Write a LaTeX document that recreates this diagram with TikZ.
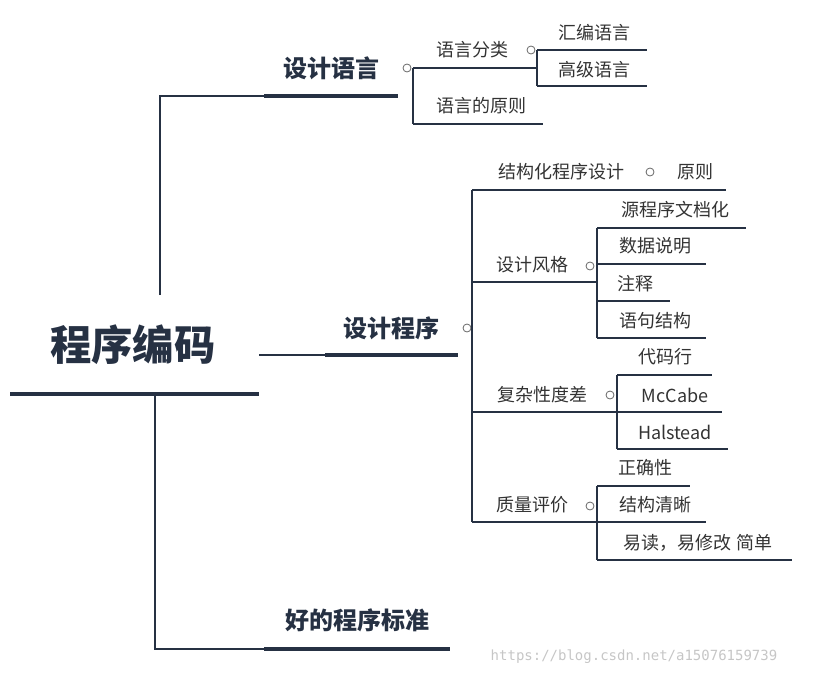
\documentclass[tikz,border=0pt]{standalone}
\usepackage{fontspec}
\setmainfont{Noto Sans CJK SC}
\newfontfamily\wm{DejaVu Sans Mono}
\begin{document}
\begin{tikzpicture}[x=0.75pt,y=-0.75pt,
  ln/.style={draw=navy,line width=0.8pt},
  thick1/.style={draw=navy,line width=3pt},
  thick0/.style={draw=navy,line width=3.5pt},
  dot/.style={circle,draw=gray!80!black,line width=0.6pt,inner sep=0pt,minimum size=6pt},
  leaf/.style={text=txt,font=\fontsize{13.5}{14}\selectfont,inner sep=0pt},
  lvl/.style={text=navy,font=\fontsize{18}{20}\selectfont\bfseries,inner sep=0pt}]
\definecolor{navy}{HTML}{263143}
\definecolor{txt}{HTML}{333333}
\useasboundingbox (0,0) rectangle (814,678);
% root
\node[text=navy,font=\fontsize{31}{34}\selectfont\bfseries,inner sep=0pt] (root) at (133,345) {程序编码};
\draw[thick0] (10,394) -- (259,394);
% level 1
\node[lvl] (l1) at (331,68) {设计语言};
\node[lvl] (l2) at (391,328) {设计程序};
\node[lvl] (l3) at (357,620) {好的程序标准};
\draw[ln] (160,295) -- (160,96) -- (264,96);
\draw[thick1] (264,96) -- (398,96);
\draw[ln] (259,355) -- (325,355);
\draw[thick1] (325,355) -- (458,355);
\draw[ln] (155,395) -- (155,649) -- (264,649);
\draw[thick1] (264,649) -- (450,649);
\node[dot] (c1) at (407,68) {};
\node[dot] (c2) at (467,328) {};
% 设计语言 children
\draw[ln] (413,68) -- (413,124);
\node[leaf] (a1) at (472,50) {语言分类};
\draw[ln] (413,68) -- (537,68);
\node[leaf] (a2) at (481,106) {语言的原则};
\draw[ln] (413,124) -- (543,124);
\node[dot] (c3) at (531,50) {};
\draw[ln] (537,50) -- (537,86);
\node[leaf] (a11) at (594,33) {汇编语言};
\draw[ln] (537,50) -- (647,50);
\node[leaf] (a12) at (594,70) {高级语言};
\draw[ln] (537,86) -- (647,86);
% 设计程序 children
\draw[ln] (472,190) -- (472,522);
\node[leaf] (b1) at (561,172) {结构化程序设计};
\node[dot] (c4) at (650,172) {};
\node[leaf] (b1a) at (695,172) {原则};
\draw[ln] (472,190) -- (726,190);
\node[leaf] (b2) at (532,265) {设计风格};
\node[dot] (c5) at (590,266) {};
\draw[ln] (472,282) -- (597,282);
\draw[ln] (597,228) -- (597,338);
\node[leaf] (b21) at (675,210) {源程序文档化};
\draw[ln] (597,228) -- (746,228);
\node[leaf] (b22) at (655,246) {数据说明};
\draw[ln] (597,264) -- (706,264);
\node[leaf] (b23) at (635,284) {注释};
\draw[ln] (597,301) -- (670,301);
\node[leaf] (b24) at (655,321) {语句结构};
\draw[ln] (597,338) -- (706,338);
\node[leaf] (b3) at (542,395) {复杂性度差};
\node[dot] (c6) at (610,395) {};
\draw[ln] (472,412) -- (617,412);
\draw[ln] (617,375) -- (617,449);
\node[leaf] (b31) at (665,357) {代码行};
\draw[ln] (617,375) -- (712,375);
\node[leaf] (b32) at (675,395) {McCabe};
\draw[ln] (617,412) -- (722,412);
\node[leaf] (b33) at (675,432) {Halstead};
\draw[ln] (617,449) -- (728,449);
\node[leaf] (b4) at (532,505) {质量评价};
\node[dot] (c7) at (590,506) {};
\draw[ln] (472,522) -- (597,522);
\draw[ln] (597,486) -- (597,560);
\node[leaf] (b41) at (645,468) {正确性};
\draw[ln] (597,486) -- (690,486);
\node[leaf] (b42) at (655,505) {结构清晰};
\draw[ln] (597,522) -- (706,522);
\node[leaf] (b43) at (698,543) {易读，易修改 简单};
\draw[ln] (597,560) -- (792,560);
\node[text=gray!45,font=\wm\fontsize{10.5}{12}\selectfont,inner sep=0pt] (wm) at (634,657) {https://blog.csdn.net/a15076159739};
\end{tikzpicture}
\end{document}
